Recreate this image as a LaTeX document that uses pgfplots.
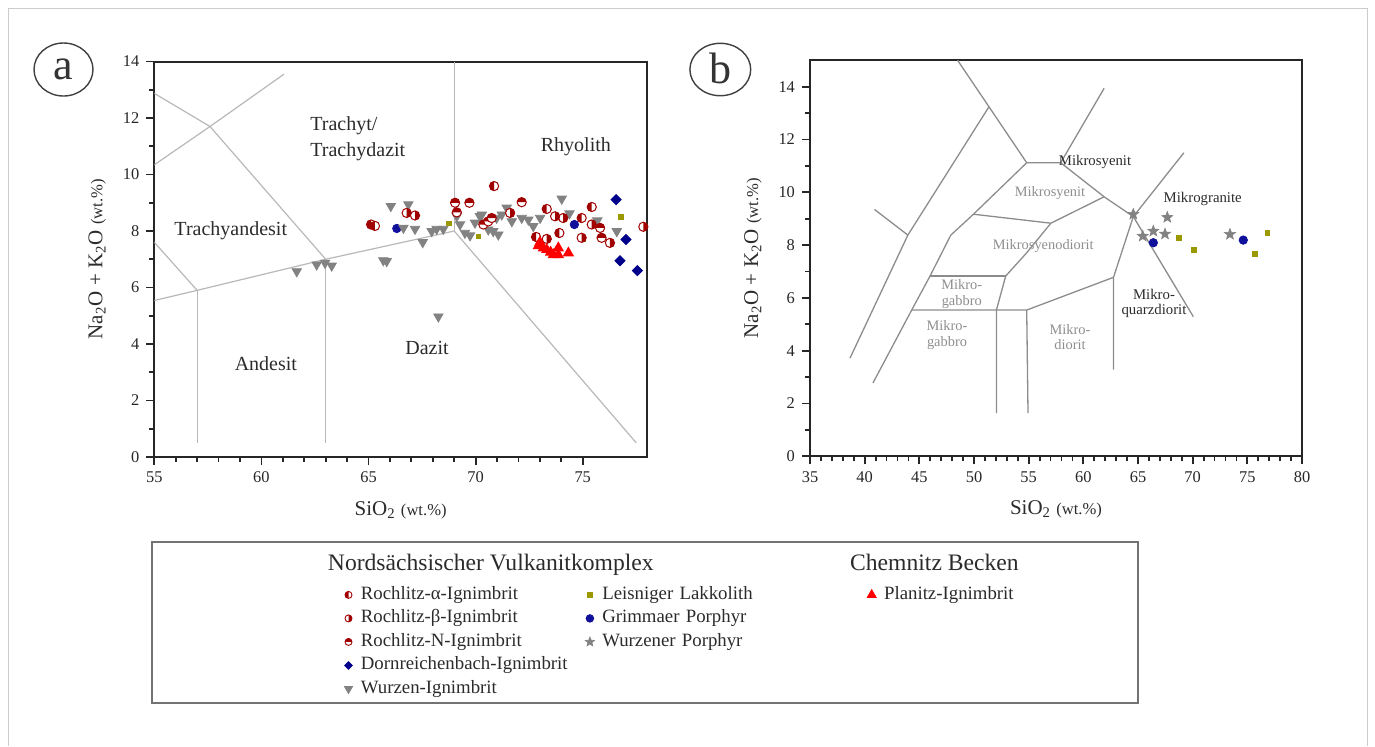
\documentclass[border=0pt]{standalone}
\usepackage{pgfplots}
\pgfplotsset{compat=1.18}
\usepackage{fontspec}
\setmainfont{Liberation Serif}

\definecolor{rochred}{HTML}{A00000}
\definecolor{dornblue}{HTML}{00008B}
\definecolor{grimblue}{HTML}{10109A}
\definecolor{leisolive}{HTML}{9A9A00}
\definecolor{wgray}{HTML}{828282}
\definecolor{tasline}{HTML}{B8B8B8}
\definecolor{mikline}{HTML}{8C8C8C}
\definecolor{txtgray}{HTML}{8E8E8E}
\definecolor{txtdark}{HTML}{2B2B2B}

% half filled circles for the Rochlitz samples
\pgfdeclareplotmark{halfL}{%
  \pgfsetfillcolor{white}%
  \pgfpathcircle{\pgfpointorigin}{\pgfplotmarksize}\pgfusepath{fill}%
  \pgfsetfillcolor{rochred}%
  \pgfpathmoveto{\pgfqpoint{0pt}{\pgfplotmarksize}}%
  \pgfpatharc{90}{270}{\pgfplotmarksize}\pgfpathclose\pgfusepath{fill}%
  \pgfpathcircle{\pgfpointorigin}{\pgfplotmarksize}\pgfusepath{stroke}%
}
\pgfdeclareplotmark{halfR}{%
  \pgfsetfillcolor{white}%
  \pgfpathcircle{\pgfpointorigin}{\pgfplotmarksize}\pgfusepath{fill}%
  \pgfsetfillcolor{rochred}%
  \pgfpathmoveto{\pgfqpoint{0pt}{-\pgfplotmarksize}}%
  \pgfpatharc{-90}{90}{\pgfplotmarksize}\pgfpathclose\pgfusepath{fill}%
  \pgfpathcircle{\pgfpointorigin}{\pgfplotmarksize}\pgfusepath{stroke}%
}
\pgfdeclareplotmark{halfT}{%
  \pgfsetfillcolor{white}%
  \pgfpathcircle{\pgfpointorigin}{\pgfplotmarksize}\pgfusepath{fill}%
  \pgfsetfillcolor{rochred}%
  \pgfpathmoveto{\pgfqpoint{\pgfplotmarksize}{0pt}}%
  \pgfpatharc{0}{180}{\pgfplotmarksize}\pgfpathclose\pgfusepath{fill}%
  \pgfpathcircle{\pgfpointorigin}{\pgfplotmarksize}\pgfusepath{stroke}%
}
% filled five-point star
\pgfdeclareplotmark{fstar}{%
  \pgfpathmoveto{\pgfqpointpolar{90}{\pgfplotmarksize}}%
  \pgfpathlineto{\pgfqpointpolar{126}{0.42\pgfplotmarksize}}%
  \pgfpathlineto{\pgfqpointpolar{162}{\pgfplotmarksize}}%
  \pgfpathlineto{\pgfqpointpolar{198}{0.42\pgfplotmarksize}}%
  \pgfpathlineto{\pgfqpointpolar{234}{\pgfplotmarksize}}%
  \pgfpathlineto{\pgfqpointpolar{270}{0.42\pgfplotmarksize}}%
  \pgfpathlineto{\pgfqpointpolar{306}{\pgfplotmarksize}}%
  \pgfpathlineto{\pgfqpointpolar{342}{0.42\pgfplotmarksize}}%
  \pgfpathlineto{\pgfqpointpolar{18}{\pgfplotmarksize}}%
  \pgfpathlineto{\pgfqpointpolar{54}{0.42\pgfplotmarksize}}%
  \pgfpathclose\pgfusepathqfillstroke
}

\pgfplotsset{
  tasframe/.style={
    scale only axis, anchor=south west,
    tick pos=left, tick align=outside,
    major tick length=4pt, minor tick length=2.5pt,
    tick style={black!85, line width=0.9pt},
    axis line style={black!85, line width=1pt},
    tick label style={font=\fontsize{8.2}{9}\selectfont, text=black!85},
    /pgf/number format/assume math mode=true,
    xlabel style={font=\fontsize{10.5}{12}\selectfont, text=txtdark,
      at={(axis description cs:0.5,-0.1467)}, anchor=base},
    ylabel style={font=\fontsize{10.5}{12}\selectfont, text=txtdark,
      at={(axis description cs:-0.1055,0.5)}, anchor=base},
    xlabel={SiO\textsubscript{2} {\fontsize{8.3}{9}\selectfont(wt.\%)}},
    ylabel={Na\textsubscript{2}O + K\textsubscript{2}O {\fontsize{8.3}{9}\selectfont(wt.\%)}},
  },
  rochl/.style={only marks, mark=halfL, mark size=2.3pt, mark options={draw=rochred, line width=0.5pt}},
  rochr/.style={only marks, mark=halfR, mark size=2.3pt, mark options={draw=rochred, line width=0.5pt}},
  rocht/.style={only marks, mark=halfT, mark size=2.3pt, mark options={draw=rochred, line width=0.5pt}},
  dorn/.style={only marks, mark=square*, mark size=1.8pt, color=dornblue, mark options={rotate=45}},
  wurzen/.style={only marks, mark=triangle*, mark size=2.7pt, color=wgray, mark options={rotate=180}},
  leis/.style={only marks, mark=square*, mark size=1.2pt, color=leisolive},
  grim/.style={only marks, mark=*, mark size=2.1pt, color=grimblue},
  wporph/.style={only marks, mark=fstar, mark size=2.9pt, color=wgray, mark options={fill=wgray, line width=0.3pt}},
  planitz/.style={only marks, mark=triangle*, mark size=2.9pt, color=red},
  tas/.style={tasline, line width=0.6pt},
  mik/.style={mikline, line width=0.65pt},
}

\begin{document}
\begin{tikzpicture}
\useasboundingbox (0pt,0pt) rectangle (687.5pt,-373pt);
\draw[black!20, line width=0.5pt] (4pt,-373pt) -- (4pt,-4pt) -- (683.5pt,-4pt) -- (683.5pt,-373pt);

% ---------------- panel a: TAS
\begin{axis}[tasframe,
  at={(77.15pt,-228.5pt)}, width=246.35pt, height=197.75pt,
  xmin=55, xmax=78, ymin=0, ymax=14,
  xtick={55,60,...,75}, ytick={0,2,...,14},
  minor x tick num=4, minor y tick num=1,
]
\addplot[tas] coordinates {(52.5,14) (57.6,11.7)};
\addplot[tas] coordinates {(53,9.3) (57.6,11.7)};
\addplot[tas] coordinates {(57.6,11.7) (61.05,13.55)};
\addplot[tas] coordinates {(57.6,11.7) (63,7)};
\addplot[tas] coordinates {(53,9.3) (57,5.9)};
\addplot[tas] coordinates {(52,5) (57,5.9) (63,7) (69,8)};
\addplot[tas] coordinates {(57,0.5) (57,5.9)};
\addplot[tas] coordinates {(63,0.5) (63,7)};
\addplot[tas] coordinates {(69,8) (69,14)};
\addplot[tas] coordinates {(69,8) (77.5,0.5)};

\node[font=\fontsize{10}{13}\selectfont, text=txtdark, align=left, anchor=west, inner sep=0pt] at (axis cs:62.27,11.28) {Trachyt/\\Trachydazit};
\node[font=\fontsize{10}{12}\selectfont, text=txtdark] at (axis cs:74.68,10.99) {Rhyolith};
\node[font=\fontsize{10}{12}\selectfont, text=txtdark] at (axis cs:58.57,8.02) {Trachyandesit};
\node[font=\fontsize{10}{12}\selectfont, text=txtdark] at (axis cs:60.21,3.30) {Andesit};
\node[font=\fontsize{10}{12}\selectfont, text=txtdark] at (axis cs:67.73,3.87) {Dazit};

% Wurzen-Ignimbrit
\addplot[wurzen] coordinates {
 (61.65,6.57) (62.58,6.81) (62.97,6.87) (63.28,6.77) (65.69,6.96) (65.85,6.93)
 (66.04,8.88) (66.86,8.94) (67.17,8.07) (67.53,7.60) (67.95,7.99)
 (68.18,8.07) (68.49,8.07) (68.26,4.97) (69.12,8.52) (69.27,8.23) (69.50,7.93)
 (69.74,7.84) (69.97,8.29) (70.20,8.52) (70.29,8.58) (70.59,8.05) (70.82,7.99)
 (71.06,7.87) (70.98,8.46) (71.22,8.58) (71.45,8.82) (71.69,8.34) (72.15,8.46)
 (72.46,8.40) (72.69,8.17) (73.01,8.46) (74.02,9.14) (74.38,8.62) (75.68,8.37)
 (76.59,7.99)};
% Grimmaer Porphyr
\addplot[grim] coordinates {(66.32,8.09) (74.61,8.23)};
\addplot[wurzen] coordinates {(66.63,8.11)};
% Leisniger Lakkolith
\addplot[leis] coordinates {(68.75,8.27) (70.13,7.81) (75.00,7.70) (76.79,8.49)};
% Rochlitz
\addplot[rochl] coordinates {(65.12,8.23) (65.30,8.18) (70.86,9.59) (73.32,8.78) (75.42,8.85) (73.91,7.93) (72.82,7.79) (74.95,8.46)};
\addplot[rochr] coordinates {(66.78,8.64) (67.17,8.55) (74.09,8.46) (71.61,8.64) (75.42,8.23) (76.27,7.58) (77.83,8.15) (73.32,7.72) (74.95,7.76) (73.71,8.52)};
\addplot[rocht] coordinates {(69.04,9.00) (69.71,9.00) (72.15,9.02) (69.12,8.66) (75.81,8.11) (75.88,7.76) (70.36,8.23) (70.59,8.34) (70.75,8.46)};
% Dornreichenbach
\addplot[dorn] coordinates {(76.56,9.11) (77.02,7.70) (76.74,6.95) (77.55,6.60)};
% Planitz
\addplot[planitz] coordinates {(72.93,7.48) (73.00,7.60) (73.16,7.40) (73.32,7.34) (73.50,7.25) (73.63,7.16) (73.86,7.16) (73.86,7.40) (74.33,7.22)};
\end{axis}

% ---------------- panel b: plutonic TAS
\begin{axis}[tasframe,
  at={(405pt,-228.15pt)}, width=246pt, height=198pt,
  xmin=35, xmax=80, ymin=0, ymax=15,
  xtick={35,40,...,80}, ytick={0,2,...,14},
  minor x tick num=4, minor y tick num=1,
]
\addplot[mik] coordinates {(48.5,15) (51.37,13.24) (54.82,11.12) (57.93,11.12) (61.9,13.94)};
\addplot[mik] coordinates {(57.93,11.12) (61.9,9.83) (64.57,9.08) (70.06,5.29)};
\addplot[mik] coordinates {(51.37,13.24) (43.95,8.38) (38.66,3.72)};
\addplot[mik] coordinates {(40.9,9.35) (43.95,8.38)};
\addplot[mik] coordinates {(54.82,11.12) (49.95,9.17) (47.88,8.38) (45.98,6.83) (44.3,5.54) (40.76,2.78)};
\addplot[mik] coordinates {(49.95,9.17) (57.03,8.83) (61.9,9.83)};
\addplot[mik] coordinates {(57.03,8.83) (54.8,7.7) (52.9,6.83) (52.05,5.54) (52.05,1.64)};
\addplot[mik] coordinates {(45.98,6.83) (52.9,6.83)};
\addplot[mik] coordinates {(44.3,5.54) (54.82,5.54) (62.76,6.78)};
\addplot[mik] coordinates {(54.82,5.54) (54.94,1.64)};
\addplot[mik] coordinates {(62.76,3.28) (62.76,6.78) (64.57,9.08) (69.2,11.5)};

\node[font=\fontsize{7.2}{7.8}\selectfont, text=txtgray] at (axis cs:56.95,9.98) {Mikrosyenit};
\node[font=\fontsize{7.4}{7.8}\selectfont, text=txtdark] at (axis cs:61.07,11.15) {Mikrosyenit};
\node[font=\fontsize{7.4}{7.8}\selectfont, text=txtdark] at (axis cs:70.92,9.73) {Mikrogranite};
\node[font=\fontsize{7.2}{7.8}\selectfont, text=txtgray] at (axis cs:56.34,7.97) {Mikrosyenodiorit};
\node[font=\fontsize{7.2}{7.8}\selectfont, text=txtgray, align=center] at (axis cs:48.88,6.15) {Mikro-\\gabbro};
\node[font=\fontsize{7.2}{7.8}\selectfont, text=txtgray, align=center] at (axis cs:47.53,4.59) {Mikro-\\gabbro};
\node[font=\fontsize{7.2}{7.8}\selectfont, text=txtgray, align=center] at (axis cs:58.78,4.52) {Mikro-\\diorit};
\node[font=\fontsize{7.4}{7.8}\selectfont, text=txtdark, align=center] at (axis cs:66.46,5.79) {Mikro-\\quarzdiorit};

\addplot[wporph] coordinates {(64.57,9.17) (67.68,9.05) (66.40,8.53) (65.43,8.34) (67.47,8.42) (73.41,8.41)};
\addplot[grim] coordinates {(66.40,8.09) (74.63,8.19)};
\addplot[leis] coordinates {(68.75,8.27) (70.13,7.81) (75.70,7.66) (76.83,8.45)};
\end{axis}

% ---------------- legend box
\begin{axis}[
  at={(76pt,-351.5pt)}, anchor=south west, scale only axis,
  width=493pt, height=80.5pt,
  xmin=0, xmax=1, ymin=0, ymax=1,
  xtick=\empty, ytick=\empty,
  axis line style={black!55, line width=1pt},
  legend columns=3,
  legend cell align=left,
  legend image code/.code={\path (-5pt,-3pt) (5pt,3pt); \draw[#1] plot coordinates {(0pt,0pt)};},
  legend style={at={(0.18834,0.7267)}, anchor=north west, draw=none, fill=none,
    inner sep=0pt, column sep=0pt, row sep=3.25pt,
    text=txtdark,
    nodes={font=\fontsize{9.4}{10}\selectfont, inner xsep=1pt, inner ysep=0pt, text height=6.5pt, text depth=2pt},
    /tikz/column 2/.style={text width=108.3pt},
    /tikz/column 4/.style={text width=128.5pt},
    /tikz/column 6/.style={text width=80pt}},
]
\addlegendimage{mark=halfL, mark size=1.75pt, mark options={draw=rochred, line width=0.45pt}}
\addlegendentry{Rochlitz-α-Ignimbrit}
\addlegendimage{mark=square*, mark size=1.1pt, color=leisolive}
\addlegendentry{Leisniger Lakkolith}
\addlegendimage{mark=triangle*, mark size=2.6pt, color=red}
\addlegendentry{Planitz-Ignimbrit}
\addlegendimage{mark=halfR, mark size=1.75pt, mark options={draw=rochred, line width=0.45pt}}
\addlegendentry{Rochlitz-β-Ignimbrit}
\addlegendimage{mark=*, mark size=1.9pt, color=grimblue}
\addlegendentry{Grimmaer Porphyr}
\addlegendimage{mark=none}
\addlegendentry{}
\addlegendimage{mark=halfT, mark size=1.75pt, mark options={draw=rochred, line width=0.45pt}}
\addlegendentry{Rochlitz-N-Ignimbrit}
\addlegendimage{mark=fstar, mark size=2.5pt, color=wgray, mark options={fill=wgray, line width=0.3pt}}
\addlegendentry{Wurzener Porphyr}
\addlegendimage{mark=none}
\addlegendentry{}
\addlegendimage{mark=square*, mark size=1.35pt, color=dornblue, mark options={rotate=45}}
\addlegendentry{Dornreichenbach-Ignimbrit}
\addlegendimage{mark=none}
\addlegendentry{}
\addlegendimage{mark=none}
\addlegendentry{}
\addlegendimage{mark=triangle*, mark size=2.3pt, color=wgray, mark options={rotate=180}}
\addlegendentry{Wurzen-Ignimbrit}
\addlegendimage{mark=none}
\addlegendentry{}
\addlegendimage{mark=none}
\addlegendentry{}
\end{axis}

\node[anchor=base, font=\fontsize{11.8}{13}\selectfont, text=txtdark] at (245.4pt,-285pt) {Nordsächsischer Vulkanitkomplex};
\node[anchor=base, font=\fontsize{11.8}{13}\selectfont, text=txtdark] at (467.2pt,-285pt) {Chemnitz Becken};

% panel letters
\draw[black!75, line width=0.7pt] (31.75pt,-34.75pt) ellipse (14.75pt and 13.25pt);
\node[anchor=base, font=\fontsize{22}{24}\selectfont, text=black!80] at (31.7pt,-39.65pt) {a};
\draw[black!75, line width=0.7pt] (360.15pt,-34.75pt) ellipse (15.2pt and 13.1pt);
\node[anchor=base, font=\fontsize{22}{24}\selectfont, text=black!80] at (360.15pt,-41.65pt) {b};
\end{tikzpicture}
\end{document}
